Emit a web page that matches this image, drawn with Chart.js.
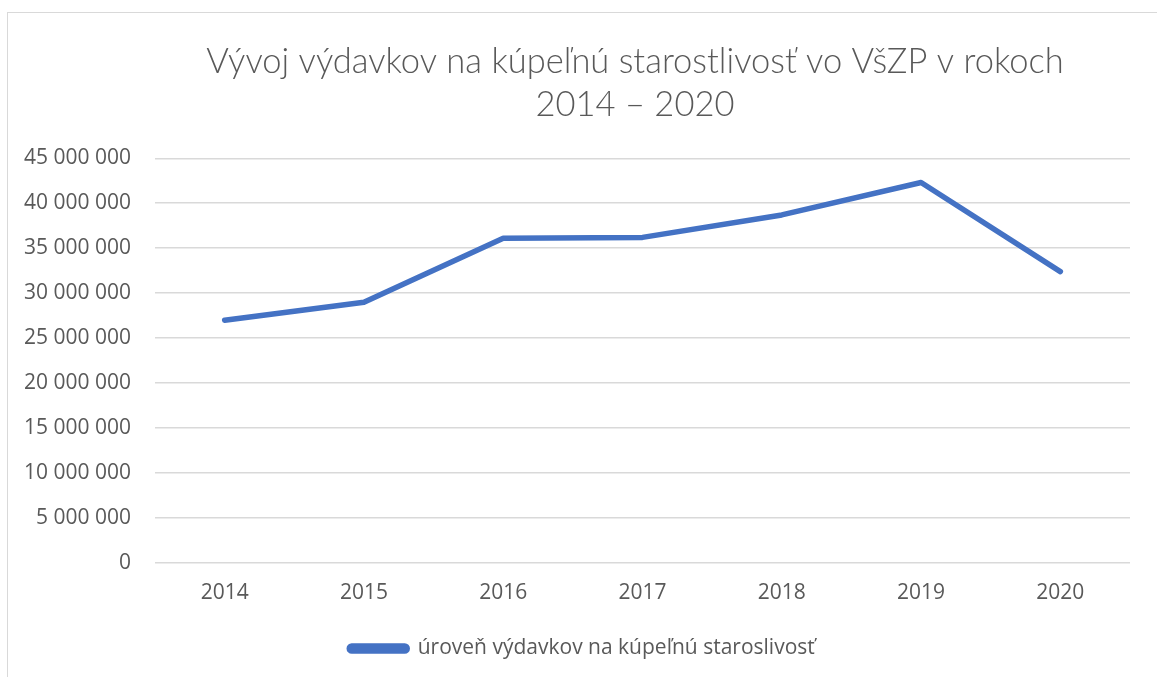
<!DOCTYPE html>
<html>
<head>
<meta charset="utf-8">
<script src="https://cdn.jsdelivr.net/npm/chart.js@4"></script>
<style>
  html, body { margin: 0; padding: 0; background: #ffffff; overflow: hidden; }
  #frame { position: absolute; left: 7px; top: 12px; width: 1200px; height: 700px; border: 1px solid #d9d9d9; box-sizing: border-box; }
  #wrap { position: absolute; left: 0; top: 0; width: 1157px; height: 677px; }
</style>
</head>
<body>
<div id="frame"></div>
<div id="wrap"><canvas id="c" width="1157" height="677"></canvas></div>
<script>
const titleLines = ["Vývoj výdavkov na kúpeľnú starostlivosť vo VšZP v rokoch", "2014 – 2020"];
const categories = ["2014", "2015", "2016", "2017", "2018", "2019", "2020"];
const seriesName = "úroveň výdavkov na kúpeľnú staroslivosť";
const seriesValues = [27000000, 29000000, 36100000, 36200000, 38700000, 42300000, 32400000];
const yTickMin = 0;
const yTickMax = 45000000;
const yTickStep = 5000000;

const textColor = "#595959";
const gridColor = "#d9d9d9";
const lineColor = "#4472C4";

function fmt(v) {
  return String(v).replace(/\B(?=(\d{3})+(?!\d))/g, " ");
}

// shift title / legend horizontally to match the reference centring
const shiftBoxes = {
  id: "shiftBoxes",
  afterLayout(chart) {
    const t = chart.titleBlock;
    if (t) { t.left = 140; t.right = 1130; }
    const l = chart.legend;
    if (l) { l.left = 34; l.right = 1130; }
  }
};

new Chart(document.getElementById("c"), {
  type: "line",
  data: {
    labels: categories,
    datasets: [{
      label: seriesName,
      data: seriesValues,
      borderColor: lineColor,
      backgroundColor: lineColor,
      borderWidth: 5.5,
      borderCapStyle: "round",
      borderJoinStyle: "round",
      pointRadius: 0,
      pointHoverRadius: 0,
      tension: 0,
      fill: false
    }]
  },
  plugins: [shiftBoxes],
  options: {
    responsive: false,
    animation: false,
    devicePixelRatio: 1,
    layout: { padding: { left: 0, right: 27, top: 0, bottom: 8 } },
    plugins: {
      title: {
        display: true,
        text: titleLines,
        color: textColor,
        font: { family: "Lato", size: 34.5, weight: 300, lineHeight: 1.25 },
        padding: { top: 40, bottom: 32 }
      },
      legend: {
        display: true,
        position: "bottom",
        labels: {
          color: textColor,
          font: { family: "Open Sans", size: 21 },
          boxWidth: 58,
          boxHeight: 5,
          useBorderRadius: true,
          borderRadius: 2.5,
          padding: 10
        }
      },
      tooltip: { enabled: false }
    },
    scales: {
      x: {
        offset: true,
        grid: { display: false, drawTicks: false },
        border: { display: false },
        ticks: { color: textColor, font: { family: "Open Sans", size: 21 }, padding: 17, maxRotation: 0 },
        afterFit: (s) => { s.height = 65; }
      },
      y: {
        min: yTickMin,
        max: yTickMax,
        grid: { color: gridColor, lineWidth: 1.5, drawTicks: false },
        border: { display: false },
        ticks: {
          stepSize: yTickStep,
          color: textColor,
          font: { family: "Open Sans", size: 21 },
          padding: 24,
          callback: (v) => fmt(v)
        },
        afterFit: (s) => { s.width = 155; }
      }
    }
  }
});
</script>
</body>
</html>
